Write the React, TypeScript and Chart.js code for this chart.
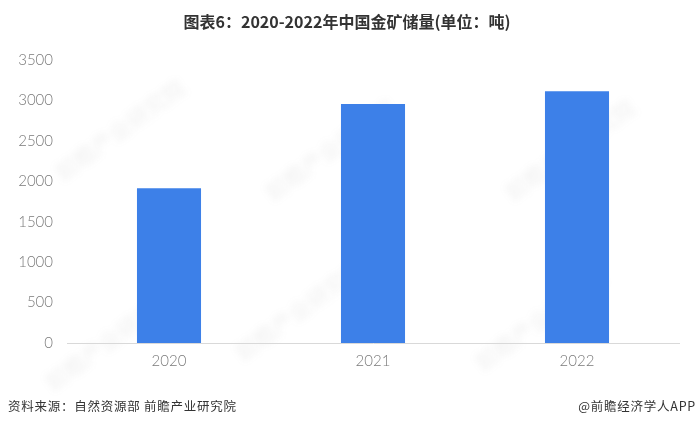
import React, { useEffect, useRef } from "react";
import { Chart, registerables } from "chart.js";

Chart.register(...registerables);

const categories = ["2020", "2021", "2022"];
const reserves = [1915, 2955, 3112];
const yTicks = [0, 500, 1000, 1500, 2000, 2500, 3000, 3500];
const titleText = "图表6：2020-2022年中国金矿储量(单位：吨)";
const sourceText = "资料来源：自然资源部 前瞻产业研究院";
const creditText = "@前瞻经济学人APP";
const watermarkText = "前瞻产业研究院";
const watermarkSpots = [[120, 130], [330, 150], [570, 150], [110, 340], [300, 310], [540, 320]];

const sans = '"Noto Sans CJK SC", "Noto Sans", sans-serif';

const watermark = {
  id: "watermark",
  beforeDraw(chart: Chart) {
    const c = chart.ctx;
    c.save();
    c.fillStyle = "rgba(120,120,120,0.07)";
    c.font = `bold 22px ${sans}`;
    c.textAlign = "center";
    c.textBaseline = "middle";
    (c as any).filter = "blur(3px)";
    for (const [x, y] of watermarkSpots) {
      c.save();
      c.translate(x, y);
      c.rotate(-Math.PI / 5);
      c.fillText(watermarkText, 0, 0);
      c.restore();
    }
    c.restore();
  },
};

export default function App() {
  const ref = useRef<HTMLCanvasElement>(null);
  useEffect(() => {
    document.body.style.margin = "0";
    document.body.style.background = "#fff";
    const chart = new Chart(ref.current!, {
      type: "bar",
      data: {
        labels: categories,
        datasets: [
          {
            data: reserves,
            backgroundColor: "#3d80e8",
            barPercentage: 0.314,
            categoryPercentage: 1,
          },
        ],
      },
      plugins: [watermark],
      options: {
        animation: false,
        responsive: false,
        devicePixelRatio: 1,
        layout: { padding: { left: 0, right: 17, top: 60, bottom: 48 } },
        plugins: {
          legend: { display: false },
          tooltip: { enabled: false },
        },
        scales: {
          x: {
            grid: { display: false, drawTicks: false },
            border: { display: true, color: "#d9d9d9", width: 1 },
            ticks: {
              color: "#7a7a7a",
              font: { family: "Lato, sans-serif", size: 15, weight: "300" },
              padding: 9,
            },
          },
          y: {
            min: 0,
            max: 3500,
            afterFit(axis: any) {
              axis.width = 67;
            },
            afterBuildTicks(axis: any) {
              axis.ticks = yTicks.map((value) => ({ value }));
            },
            grid: { display: false, drawTicks: false },
            border: { display: false },
            ticks: {
              color: "#7a7a7a",
              font: { family: "Lato, sans-serif", size: 15, weight: "300" },
              padding: 14,
              callback: (value: any) => String(value),
            },
          },
        },
      },
    });
    return () => chart.destroy();
  }, []);

  const base: React.CSSProperties = { position: "absolute", whiteSpace: "nowrap", fontFamily: sans };
  return (
    <div style={{ position: "relative", width: 696, height: 427, overflow: "hidden", background: "#fff" }}>
      <canvas ref={ref} width={696} height={427} style={{ display: "block" }} />
      <div style={{ ...base, left: 0, width: 694, top: 11, textAlign: "center", fontSize: 16, fontWeight: 700, color: "#333", lineHeight: "20px" }}>
        {titleText}
      </div>
      <div style={{ ...base, left: 8, top: 397, fontSize: 12.5, color: "#333", lineHeight: "18px", letterSpacing: 0.75 }}>
        {sourceText}
      </div>
      <div style={{ ...base, right: 0, top: 397, fontSize: 12.5, color: "#333", lineHeight: "18px", letterSpacing: 0.75 }}>
        {creditText}
      </div>
    </div>
  );
}
